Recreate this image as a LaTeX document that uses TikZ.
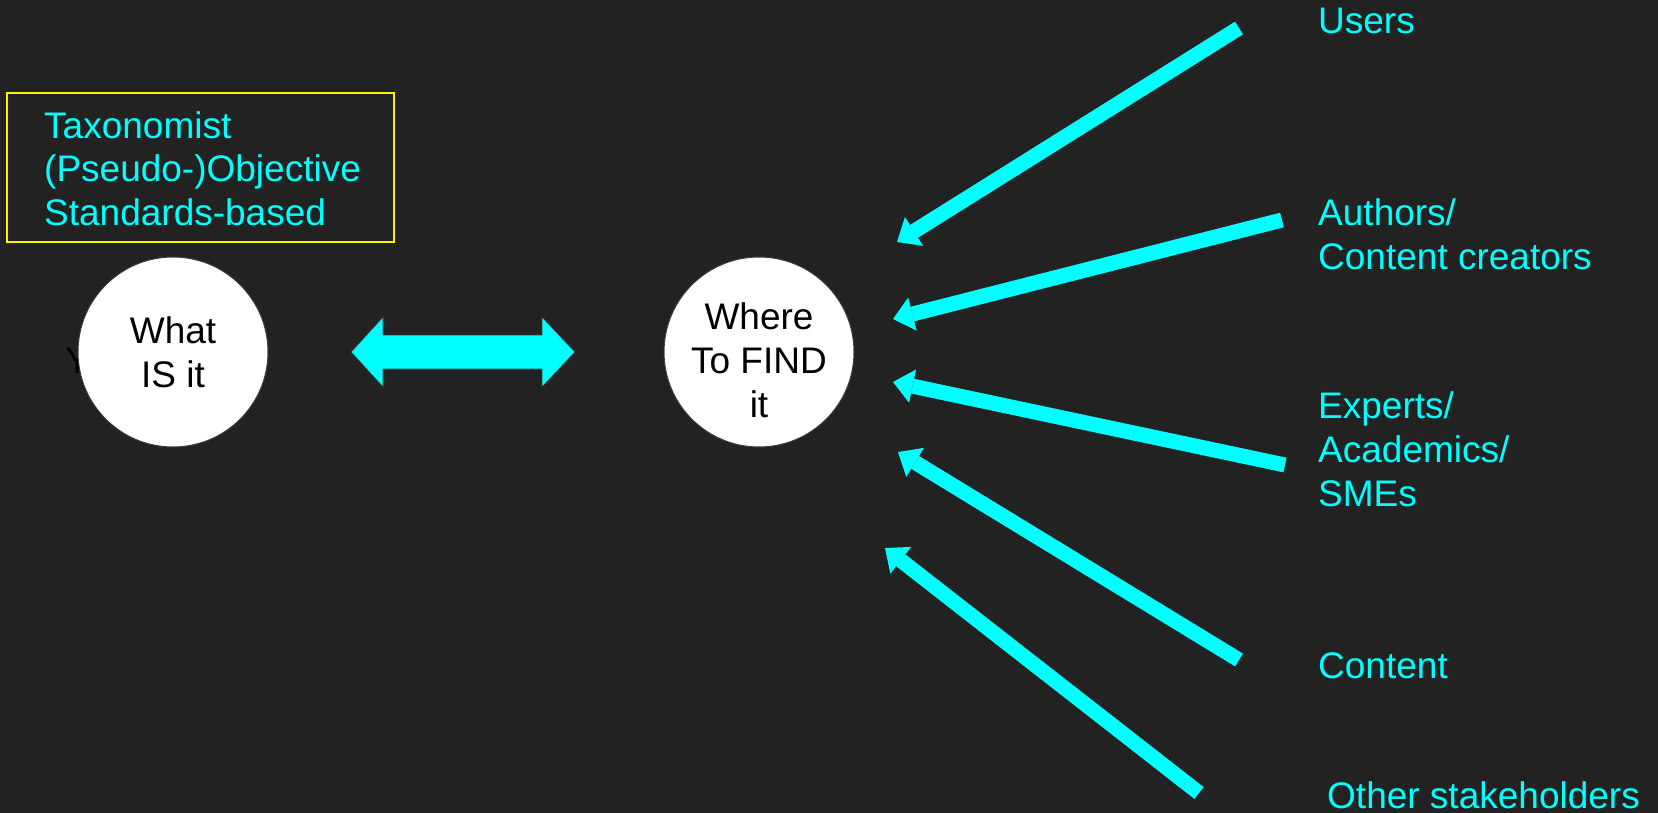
\documentclass[tikz,border=0pt]{standalone}
\usepackage{fontspec}
\setmainfont{Liberation Sans}
\usetikzlibrary{arrows.meta}
\definecolor{bgcol}{HTML}{222222}
\definecolor{aqua}{HTML}{00FFFF}
\definecolor{rim}{HTML}{3A3A3A}
\begin{document}
\begin{tikzpicture}[x=1pt,y=-1pt,
  lbl/.style={text=aqua, font=\fontsize{37}{44}\selectfont, align=left, inner sep=0pt, anchor=base west},
  bubble/.style={circle, fill=white, draw=rim, line width=1pt, minimum size=190pt, inner sep=0pt, align=center, font=\fontsize{37}{44}\selectfont, text=black},
  feed/.style={aqua, line width=15pt, -{Triangle[length=20pt,width=34pt,line width=0pt]}}]
\useasboundingbox[fill=bgcol] (0,0) rectangle (1658,813);

% taxonomist box (base anchor = baseline of last line)
\draw[yellow, line width=1.5pt] (7,93) rectangle (394,242);
\node[lbl] (tax) at (44,226) {Taxonomist\\(Pseudo-)Objective\\Standards-based};

% hidden letter behind circle
\node[lbl, text=black] (ychar) at (65,373) {Y};

% circles
\node[bubble] (what) at (173,352) {What\\IS it};
\node[bubble] (where) at (759,352) {\rule{0pt}{44pt}Where\\To FIND\\it};

% double arrow
\fill[aqua, draw=rim, line width=0.8pt] (351,352) -- (383,317) -- (383,335) -- (542,335) -- (542,317)
  -- (575,352) -- (542,387) -- (542,369) -- (383,369) -- (383,387) -- cycle;

% arrow coordinates
\coordinate (u0) at (1239,28);  \coordinate (u1) at (897,242);
\coordinate (a0) at (1282,220); \coordinate (a1) at (893,319);
\coordinate (e0) at (1285,465); \coordinate (e1) at (893,382);
\coordinate (c0) at (1239,660); \coordinate (c1) at (898,452);
\coordinate (o0) at (1199,793); \coordinate (o1) at (885,548);

\draw[feed] (u0) -- (u1);
\draw[feed] (a0) -- (a1);
\draw[feed] (e0) -- (e1);
\draw[feed] (c0) -- (c1);
\draw[feed] (o0) -- (o1);

% labels
\node[lbl] (users) at (1318,34) {Users};
\node[lbl] (authors) at (1318,269.5) {Authors/\\Content creators};
\node[lbl] (experts) at (1318,506) {Experts/\\Academics/\\SMEs};
\node[lbl] (content) at (1318,678) {Content};
\node[lbl] (other) at (1327,808) {Other stakeholders};
\end{tikzpicture}
\end{document}
